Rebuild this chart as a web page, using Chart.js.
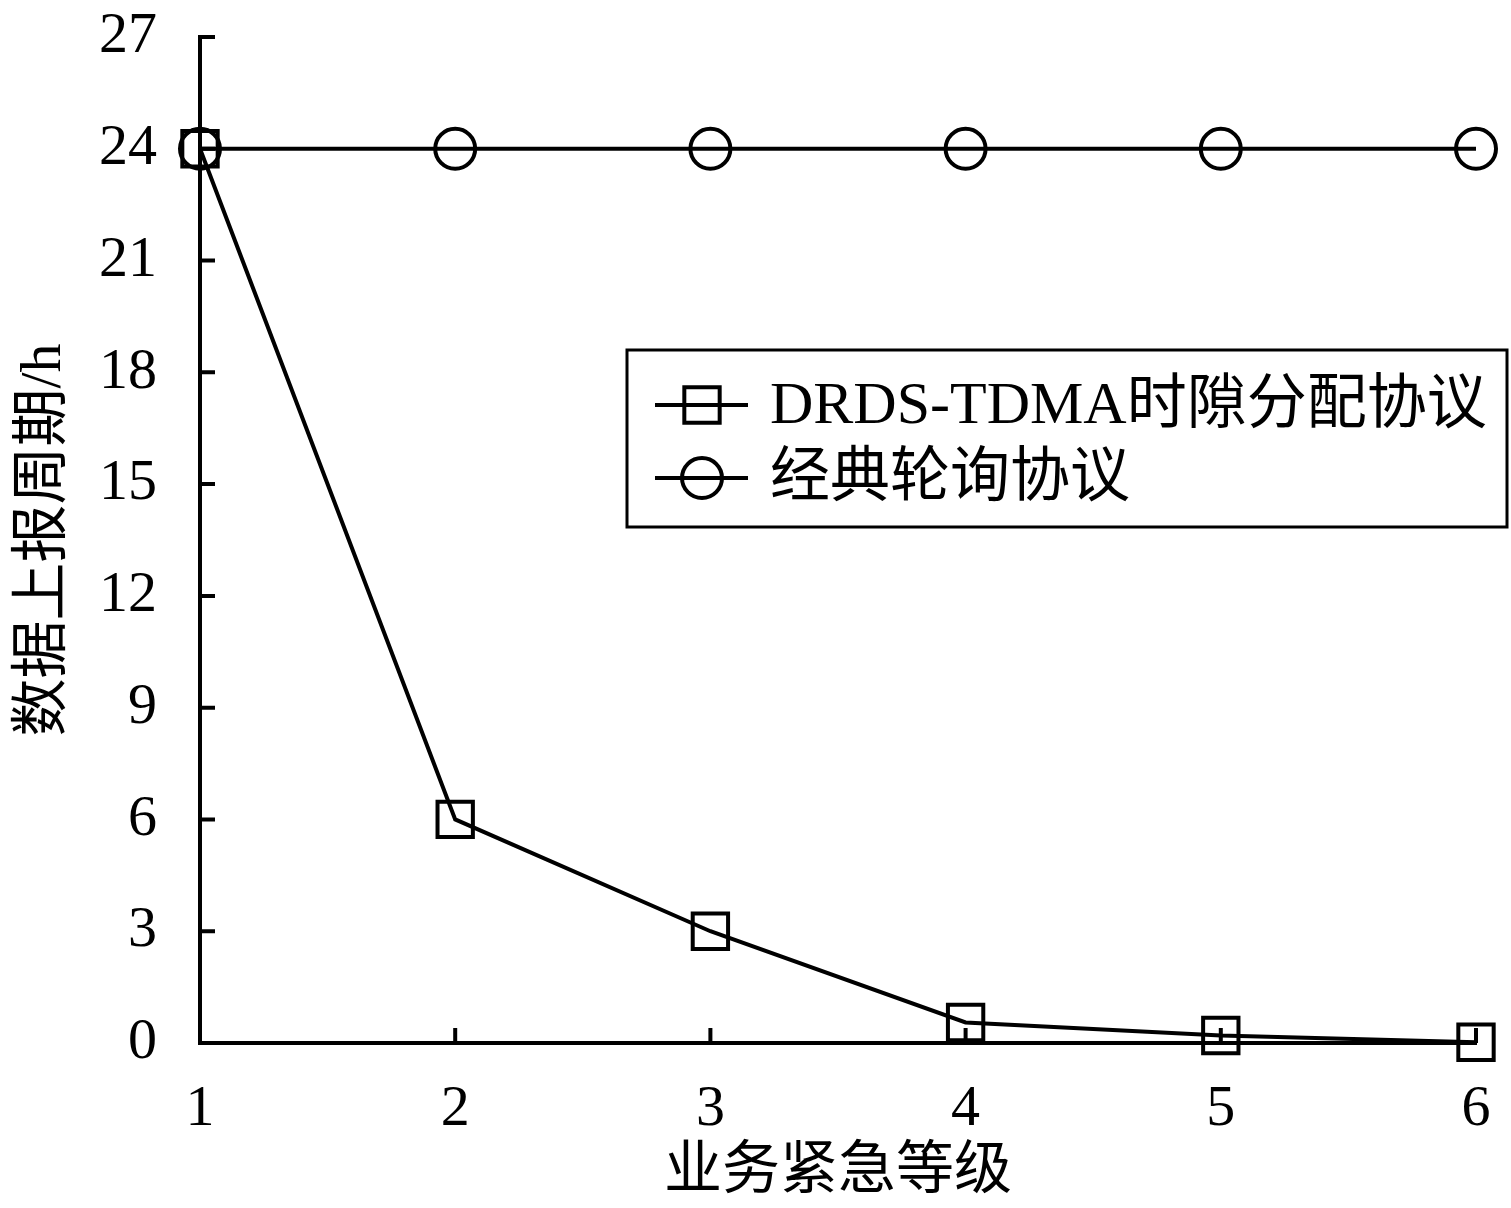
<!DOCTYPE html>
<html>
<head>
<meta charset="utf-8">
<script src="https://cdn.jsdelivr.net/npm/chart.js@4.4.1/dist/chart.umd.min.js"></script>
<style>
    html, body { margin: 0; padding: 0; background: #fff; }
    #wrap { width: 1511px; height: 1208px; }
</style>
</head>
<body>
<div id="wrap"><canvas id="myChart"></canvas></div>
<script>
// Daten
const levels = [1, 2, 3, 4, 5, 6];
const drdsValues = [24, 6, 3, 0.55, 0.2, 0.02];
const pollingValues = [24, 24, 24, 24, 24, 24];
const seriesNames = ["DRDS-TDMA时隙分配协议", "经典轮询协议"];
const yTicks = [0, 3, 6, 9, 12, 15, 18, 21, 24, 27];
const xTitle = "业务紧急等级";
const yTitle = "数据上报周期/h";

const FONT = "'Liberation Serif', 'Noto Sans CJK SC', serif";

// Zeichnet die Ticks nach innen und die Legende mit Rahmen.
const innerTicks = {
    id: "innerTicks",
    afterDatasetsDraw(chart) {
        const ctx = chart.ctx;
        const x = chart.scales.x, y = chart.scales.y;
        ctx.save();
        ctx.strokeStyle = "#000";
        ctx.lineWidth = 4;
        ctx.beginPath();
        yTicks.forEach(v => {
            if (v === 0) return;
            const py = y.getPixelForValue(v);
            ctx.moveTo(x.left, py);
            ctx.lineTo(x.left + 15, py);
        });
        levels.forEach(v => {
            if (v === 1) return;
            const px = x.getPixelForValue(v);
            ctx.moveTo(px, y.bottom);
            ctx.lineTo(px, y.bottom - 15);
        });
        ctx.stroke();

        // Legende
        const bx = 627, by = 350, bw = 880, bh = 177;
        ctx.fillStyle = "#fff";
        ctx.fillRect(bx, by, bw, bh);
        ctx.lineWidth = 3;
        ctx.strokeRect(bx, by, bw, bh);
        const rows = [405, 478];
        chart.data.datasets.forEach((ds, i) => {
            const ry = rows[i];
            ctx.lineWidth = 4;
            ctx.beginPath();
            ctx.moveTo(655, ry);
            ctx.lineTo(748, ry);
            ctx.stroke();
            ctx.fillStyle = "rgba(0,0,0,0)";
            Chart.helpers.drawPoint(ctx, {
                pointStyle: ds.pointStyle,
                radius: ds.pointRadius,
                borderWidth: 4
            }, 702, ry);
            ctx.fillStyle = "#000";
            ctx.font = "60px " + FONT;
            ctx.textBaseline = "middle";
            ctx.textAlign = "left";
            ctx.fillText(ds.label, 770, ry + 2);
        });
        ctx.restore();
    }
};

const ctx = document.getElementById("myChart");
const myChart = new Chart(ctx, {
    type: "line",
    data: {
        labels: levels,
        datasets: [{
            label: seriesNames[0],
            data: drdsValues,
            borderColor: "#000",
            backgroundColor: "transparent",
            borderWidth: 4,
            pointStyle: "rect",
            pointRadius: 25,
            pointBorderWidth: 4,
            pointBorderColor: "#000",
            pointBackgroundColor: "transparent",
            tension: 0,
            clip: false
        }, {
            label: seriesNames[1],
            data: pollingValues,
            borderColor: "#000",
            backgroundColor: "transparent",
            borderWidth: 4,
            pointStyle: "circle",
            pointRadius: 20,
            pointBorderWidth: 4,
            pointBorderColor: "#000",
            pointBackgroundColor: "transparent",
            tension: 0,
            clip: false
        }]
    },
    options: {
        responsive: true,
        maintainAspectRatio: false,
        animation: false,
        events: [],
        layout: { padding: { top: 37, right: 35, left: 0, bottom: 0 } },
        plugins: {
            legend: { display: false },
            tooltip: { enabled: false }
        },
        scales: {
            x: {
                type: "linear",
                min: 1,
                max: 6,
                afterBuildTicks: (scale) => { scale.ticks = levels.map(v => ({ value: v })); },
                grid: { display: false },
                border: { display: true, color: "#000", width: 4 },
                ticks: {
                    color: "#000",
                    padding: 24,
                    font: { family: FONT, size: 58 }
                },
                title: {
                    display: true,
                    text: xTitle,
                    color: "#000",
                    font: { family: FONT, size: 58 },
                    padding: { top: 0, bottom: 0 }
                },
                afterFit: (scale) => {
                    scale.height = 165;
                    scale.paddingLeft = 0;
                    scale.paddingRight = 0;
                }
            },
            y: {
                min: 0,
                max: 27,
                afterBuildTicks: (scale) => { scale.ticks = yTicks.map(v => ({ value: v })); },
                grid: { display: false },
                border: { display: true, color: "#000", width: 4 },
                ticks: {
                    color: "#000",
                    padding: 35,
                    font: { family: FONT, size: 58 }
                },
                title: {
                    display: true,
                    text: yTitle,
                    color: "#000",
                    font: { family: FONT, size: 58 },
                    padding: { top: 10, bottom: 0 }
                },
                afterFit: (scale) => {
                    scale.width = 200;
                    scale.paddingTop = 0;
                    scale.paddingBottom = 0;
                }
            }
        }
    },
    plugins: [innerTicks]
});
</script>
</body>
</html>
